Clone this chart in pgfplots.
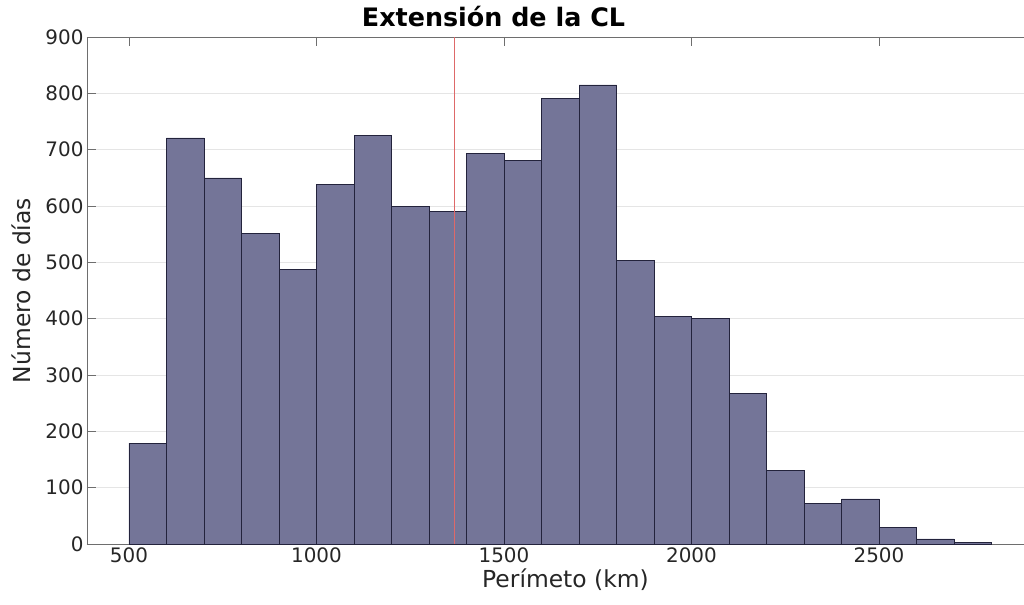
\documentclass[border=0pt]{standalone}
\usepackage{pgfplots}
\pgfplotsset{compat=1.18}
\usepackage{fontspec}
\setmainfont{DejaVu Sans}
\definecolor{barfill}{RGB}{116,117,152}
\definecolor{baredge}{RGB}{35,35,60}
\definecolor{axgray}{RGB}{110,110,110}
\definecolor{txt}{RGB}{38,38,38}
\definecolor{vline}{RGB}{222,105,105}

\begin{document}
\begin{tikzpicture}
\begin{axis}[
    scale only axis,
    width=957bp,
    height=507bp,
    xmin=388, xmax=2940,
    ymin=0, ymax=900,
    axis y line*=left,
    xtick={500,1000,1500,2000,2500},
    ytick={0,100,...,900},
    tick align=inside,
    major tick length=9bp,
    axis line style={axgray, line width=0.8pt, -},
    tick style={axgray, line width=0.8pt},
    ymajorgrids,
    grid style={black!10, line width=0.6pt},
    ticklabel style={font=\fontsize{20}{24}\selectfont, text=txt},
    /pgf/number format/assume math mode=true,
    /pgf/number format/1000 sep={},
    xlabel={Perímeto (km)},
    ylabel={Número de días},
    label style={font=\fontsize{23.5}{27}\selectfont, text=txt},
    xlabel style={at={(rel axis cs:0.5,-0.071)}, anchor=center},
    ylabel style={at={(rel axis cs:-0.069,0.5)}, anchor=center},
    title={\textbf{Extensión de la CL}},
    title style={font=\fontsize{25.5}{29}\selectfont, at={(axis cs:1472,900)}, anchor=center, yshift=14bp},
]
\addplot[ybar interval, fill=barfill, draw=baredge, line width=0.6pt] coordinates {
    (500,179) (600,721) (700,650) (800,552) (900,487) (1000,639)
    (1100,726) (1200,599) (1300,591) (1400,694) (1500,681) (1600,791)
    (1700,815) (1800,504) (1900,404) (2000,400) (2100,268) (2200,130)
    (2300,72) (2400,80) (2500,29) (2600,9) (2700,3) (2800,0)
};
\addplot[vline, line width=1pt] coordinates {(1369,0) (1369,900)};
\end{axis}
\pgfresetboundingbox
\path[use as bounding box] (-87bp,-61bp) rectangle (937bp,544bp);
\end{tikzpicture}
\end{document}
